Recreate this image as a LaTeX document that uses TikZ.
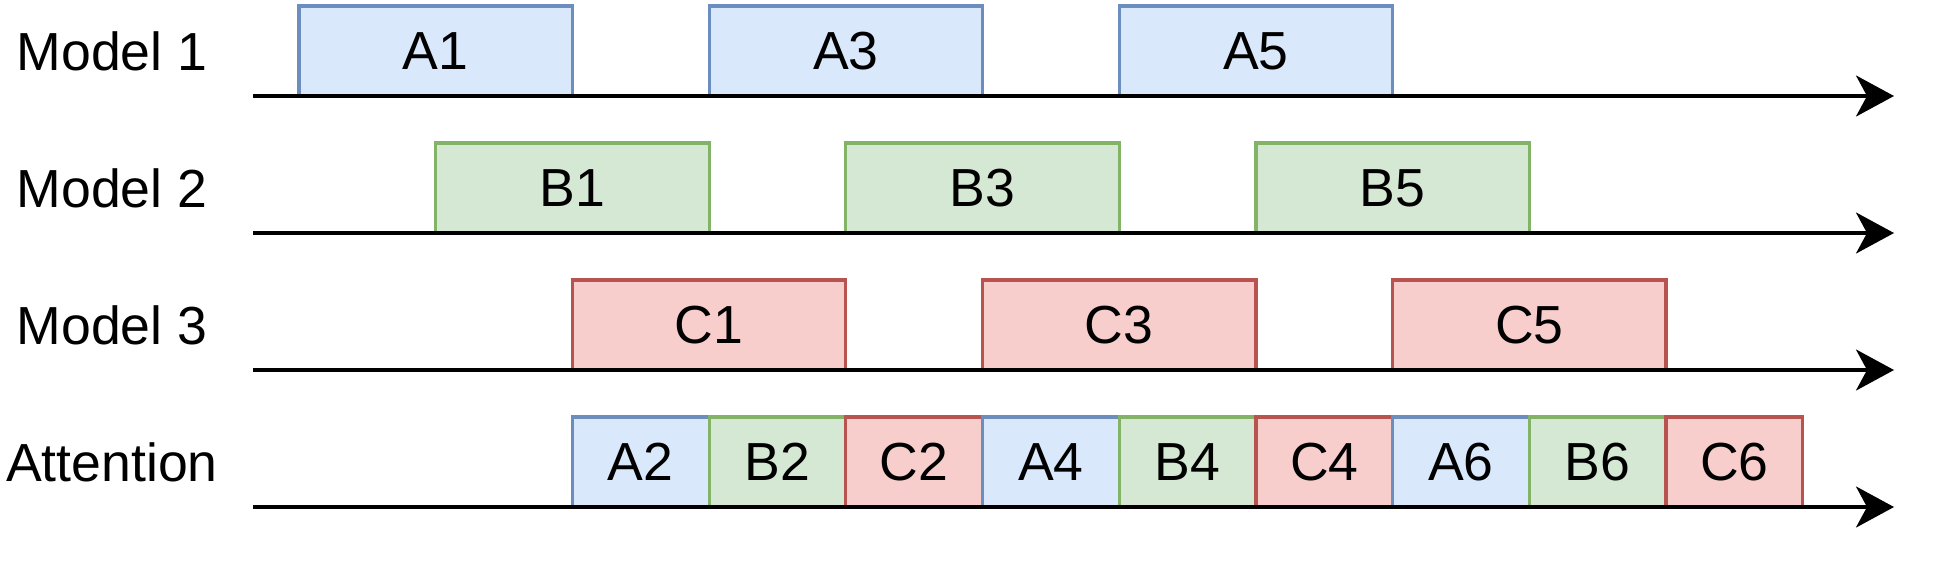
\documentclass[tikz,border=0pt]{standalone}
\usepackage{fontspec}
\setmainfont{Liberation Sans}
\usetikzlibrary{arrows.meta}
\definecolor{bfill}{HTML}{DAE8FC}\definecolor{bdraw}{HTML}{6C8EBF}
\definecolor{gfill}{HTML}{D5E8D4}\definecolor{gdraw}{HTML}{82B366}
\definecolor{rfill}{HTML}{F8CECC}\definecolor{rdraw}{HTML}{B85450}
\begin{document}
\begin{tikzpicture}[x=0.5pt,y=-0.5pt,
  txt/.style={font=\fontsize{26.8}{32}\selectfont},
  lbl/.style={txt, inner sep=0},
  box/.style={txt, draw, line width=1.6pt, minimum height=45pt, inner sep=0},
  wide/.style={box, minimum width=136.7pt},
  narrow/.style={box, minimum width=68.35pt},
  ba/.style={fill=bfill, draw=bdraw},
  bb/.style={fill=gfill, draw=gdraw},
  bc/.style={fill=rfill, draw=rdraw},
  axis/.style={line width=1.8pt, -{Stealth[length=19pt,width=20.5pt,inset=5.5pt]}}]
\useasboundingbox (0,0) rectangle (1937,564);
% row labels
\node[lbl] (l1) at (112,51) {Model 1};
\node[lbl] (l2) at (112,188) {Model 2};
\node[lbl] (l3) at (112,325) {Model 3};
\node[lbl] (l4) at (112,462) {Attention};
% model rows
\node[wide,ba] (A1) at (435.7,51) {A1};
\node[wide,ba] (A3) at (845.8,51) {A3};
\node[wide,ba] (A5) at (1255.9,51) {A5};
\node[wide,bb] (B1) at (572.4,188) {B1};
\node[wide,bb] (B3) at (982.5,188) {B3};
\node[wide,bb] (B5) at (1392.6,188) {B5};
\node[wide,bc] (C1) at (709.1,325) {C1};
\node[wide,bc] (C3) at (1119.2,325) {C3};
\node[wide,bc] (C5) at (1529.3,325) {C5};
% attention row
\node[narrow,ba] (A2) at (640.75,462) {A2};
\node[narrow,bb] (B2) at (777.45,462) {B2};
\node[narrow,bc] (C2) at (914.15,462) {C2};
\node[narrow,ba] (A4) at (1050.85,462) {A4};
\node[narrow,bb] (B4) at (1187.55,462) {B4};
\node[narrow,bc] (C4) at (1324.25,462) {C4};
\node[narrow,ba] (A6) at (1460.95,462) {A6};
\node[narrow,bb] (B6) at (1597.65,462) {B6};
\node[narrow,bc] (C6) at (1734.35,462) {C6};
% axes
\coordinate (s1) at (253,96);  \coordinate (e1) at (1894,96);
\coordinate (s2) at (253,233); \coordinate (e2) at (1894,233);
\coordinate (s3) at (253,370); \coordinate (e3) at (1894,370);
\coordinate (s4) at (253,507); \coordinate (e4) at (1894,507);
\draw[axis] (s1) -- (e1);
\draw[axis] (s2) -- (e2);
\draw[axis] (s3) -- (e3);
\draw[axis] (s4) -- (e4);
\end{tikzpicture}
\end{document}
